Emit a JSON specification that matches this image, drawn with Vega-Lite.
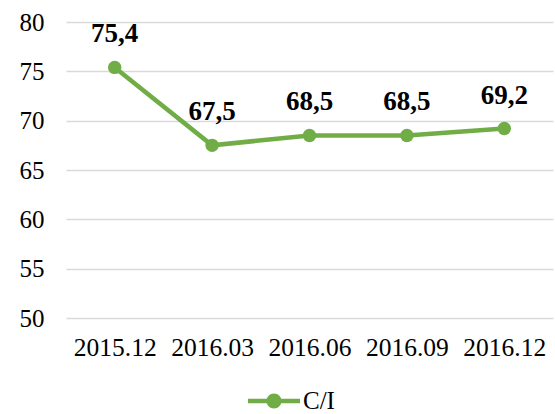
{
  "$schema": "https://vega.github.io/schema/vega-lite/v6.json",
  "width": 487,
  "height": 296,
  "autosize": "none",
  "padding": {"left": 66, "top": 22, "right": 2, "bottom": 96},
  "background": "white",
  "config": {
    "view": {"stroke": null},
    "font": "Liberation Serif",
    "locale": {"number": {"decimal": ",", "thousands": ".", "grouping": [3], "currency": ["", ""]}},
    "axis": {"labelFont": "Liberation Serif", "labelColor": "#000000", "domain": false, "ticks": false, "title": null}
  },
  "data": {
    "values": [
      {"period": "2015.12", "value": 75.4, "series": "C/I"},
      {"period": "2016.03", "value": 67.5, "series": "C/I"},
      {"period": "2016.06", "value": 68.5, "series": "C/I"},
      {"period": "2016.09", "value": 68.5, "series": "C/I"},
      {"period": "2016.12", "value": 69.2, "series": "C/I"}
    ]
  },
  "encoding": {
    "x": {
      "field": "period", "type": "ordinal",
      "scale": {"type": "point", "padding": 0.5},
      "axis": {"labelAngle": 0, "labelFontSize": 25.5, "labelPadding": 17, "grid": false}
    },
    "y": {
      "field": "value", "type": "quantitative",
      "scale": {"domain": [50, 80], "nice": false, "zero": false},
      "axis": {"values": [50, 55, 60, 65, 70, 75, 80], "labelFontSize": 25, "labelPadding": 22, "grid": true, "gridColor": "#D9D9D9", "gridWidth": 1.5}
    }
  },
  "layer": [
    {
      "mark": {"type": "line", "color": "#70AD47", "strokeWidth": 4.5}
    },
    {
      "mark": {"type": "point", "filled": true, "opacity": 1, "size": 180},
      "encoding": {
        "color": {
          "field": "series", "type": "nominal",
          "scale": {"range": ["#70AD47"]},
          "legend": {
            "orient": "none",
            "legendX": 193,
            "legendY": 364,
            "title": null,
            "labelFont": "Liberation Serif",
            "labelFontSize": 25,
            "labelColor": "#000000",
            "labelOffset": 14,
            "symbolType": "M-1.733,-0.15H1.733V0.15H-1.733Z M0.5,0 A0.5,0.5 0 1,1 -0.5,0 A0.5,0.5 0 1,1 0.5,0Z",
            "symbolSize": 900,
            "symbolStrokeWidth": 0,
            "symbolFillColor": "#70AD47"
          }
        }
      }
    },
    {
      "mark": {"type": "text", "fontWeight": "bold", "fontSize": 27, "dy": -25, "baseline": "alphabetic", "color": "#000000", "font": "Liberation Serif"},
      "encoding": {
        "text": {"field": "value", "type": "quantitative", "format": ".1f"}
      }
    }
  ]
}
